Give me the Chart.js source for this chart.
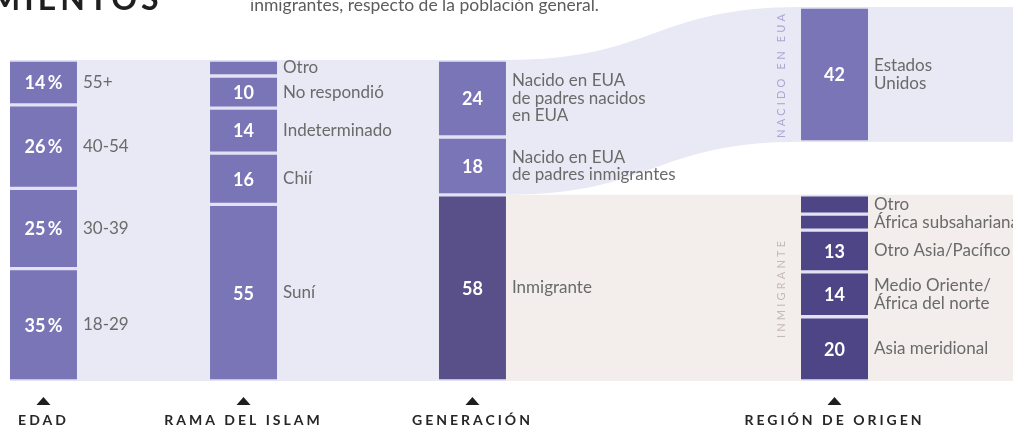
<!DOCTYPE html>
<html lang="es">
<head>
<meta charset="utf-8">
<title>Musulmanes en EUA</title>
<script src="https://cdn.jsdelivr.net/npm/chart.js@4.4.1/dist/chart.umd.min.js"></script>
<style>
  html, body { margin: 0; padding: 0; background: #fff; }
  .wrap { position: relative; width: 1013px; height: 427px; }
</style>
</head>
<body>
<div class="wrap"><canvas id="chart"></canvas></div>
<script>
// data, bottom segment first in every column
const COLUMN_TITLES = ['EDAD', 'RAMA DEL ISLAM', 'GENERACIÓN', 'REGIÓN DE ORIGEN'];

const AGE_LABELS = ['18-29', '30-39', '40-54', '55+'];
const AGE_VALUES = [35, 25, 26, 14];

const BRANCH_LABELS = ['Suní', 'Chií', 'Indeterminado', 'No respondió', 'Otro'];
const BRANCH_VALUES = [55, 16, 14, 10, 5];

const GEN_LABELS = [['Inmigrante'], ['Nacido en EUA', 'de padres inmigrantes'], ['Nacido en EUA', 'de padres nacidos', 'en EUA']];
const GEN_VALUES = [58, 18, 24];

const ORIGIN_IMM_LABELS = [['Asia meridional'], ['Medio Oriente/', 'África del norte'], ['Otro Asia/Pacífico'], ['África subsahariana'], ['Otro']];
const ORIGIN_IMM_VALUES = [20, 14, 13, 5, 6];
const ORIGIN_US_LABELS = [['Estados', 'Unidos']];
const ORIGIN_US_VALUES = [42];

// layout
const COLUMN_POS = [4.29, 24.04, 46.64, 82.38]; // along a 0..100 x axis
const BAR_WIDTH = 67;
const REGION_GAP = 16.5; // empty space between immigrant and US-born parts of the last column
const AXIS_HEIGHT = 46;

const PURPLE = '#7a75b6';
const PURPLE_DARK = '#5a5089';
const PURPLE_DEEP = '#4e4586';
const LAVENDER = '#e9e9f5';
const BEIGE = '#f3eeec';
const SEPARATOR = '#e3e2f2';

const sum = arr => arr.reduce((a, b) => a + b, 0);
const Y_MAX = sum(ORIGIN_IMM_VALUES) + REGION_GAP + sum(ORIGIN_US_VALUES);

function segments(col, labels, values, color, fmt) {
    return values.map((v, i) => ({
        label: [].concat(labels[i]).join(' '),
        lines: [].concat(labels[i]),
        valueText: v >= 10 ? fmt(v) : null,
        data: [{ x: COLUMN_POS[col], y: v }],
        backgroundColor: color,
        borderColor: SEPARATOR,
        borderWidth: { top: 2, bottom: 2 },
        borderSkipped: false
    }));
}

const plain = v => String(v);
const percent = v => v + '\u2009%';

const datasets = [
    ...segments(0, AGE_LABELS, AGE_VALUES, PURPLE, percent),
    ...segments(1, BRANCH_LABELS, BRANCH_VALUES, PURPLE, plain),
    ...segments(2, GEN_LABELS.slice(0, 1), GEN_VALUES.slice(0, 1), PURPLE_DARK, plain),
    ...segments(2, GEN_LABELS.slice(1), GEN_VALUES.slice(1), PURPLE, plain),
    ...segments(3, ORIGIN_IMM_LABELS, ORIGIN_IMM_VALUES, PURPLE_DEEP, plain),
    {
        label: 'gap',
        spacer: true,
        data: [{ x: COLUMN_POS[3], y: REGION_GAP }],
        backgroundColor: 'rgba(0,0,0,0)',
        borderWidth: 0
    },
    ...segments(3, ORIGIN_US_LABELS, ORIGIN_US_VALUES, PURPLE, plain)
];

// backgrounds, flow band and all the text around the bars
const sankeyDecor = {
    id: 'sankeyDecor',
    beforeDraw(chart) {
        chart.ctx.letterSpacing = '3px'; // spaced column titles on the x axis
    },
    beforeDatasetsDraw(chart) {
        const { ctx, scales: { x, y }, width } = chart;
        ctx.letterSpacing = '0px';
        const half = BAR_WIDTH / 2;
        const left = i => x.getPixelForValue(COLUMN_POS[i]) - half;
        const right = i => x.getPixelForValue(COLUMN_POS[i]) + half;
        const immGen = GEN_VALUES[0];
        const immOrigin = sum(ORIGIN_IMM_VALUES);

        ctx.save();
        // lavender block behind first columns
        ctx.fillStyle = LAVENDER;
        ctx.fillRect(left(0), y.getPixelForValue(100), left(2) - left(0), y.getPixelForValue(0) - y.getPixelForValue(100));

        // beige immigrant band
        ctx.fillStyle = BEIGE;
        ctx.fillRect(right(2), y.getPixelForValue(immOrigin), width - right(2), y.getPixelForValue(0) - y.getPixelForValue(immOrigin));

        // lavender flow: US born generations -> Estados Unidos
        const x0 = right(2), x1 = left(3), xm = (x0 + x1) / 2;
        const t0 = y.getPixelForValue(sum(GEN_VALUES)), b0 = y.getPixelForValue(immGen);
        const t1 = y.getPixelForValue(Y_MAX), b1 = y.getPixelForValue(immOrigin + REGION_GAP);
        ctx.fillStyle = LAVENDER;
        ctx.beginPath();
        ctx.moveTo(x0, t0);
        ctx.bezierCurveTo(xm, t0, xm, t1, x1, t1);
        ctx.lineTo(x1, b1);
        ctx.bezierCurveTo(xm, b1, xm, b0, x0, b0);
        ctx.closePath();
        ctx.fill();
        ctx.fillRect(right(3), t1, width - right(3), b1 - t1);
        ctx.restore();
    },
    afterDatasetsDraw(chart) {
        const { ctx, scales: { x, y } } = chart;
        const half = BAR_WIDTH / 2;
        ctx.save();
        ctx.textBaseline = 'middle';
        chart.data.datasets.forEach((ds, i) => {
            if (ds.spacer) return;
            const el = chart.getDatasetMeta(i).data[0];
            const { x: cx, y: top, base } = el.getProps(['x', 'y', 'base'], true);
            const mid = (top + base) / 2;
            if (ds.valueText) {
                ctx.fillStyle = '#ffffff';
                ctx.font = 'bold 18px Lato';
                ctx.textAlign = 'center';
                ctx.fillText(ds.valueText, cx, mid + 1);
            }
            ctx.fillStyle = '#6a6a6a';
            ctx.font = '17px Lato';
            ctx.textAlign = 'left';
            const lh = 17.5;
            ds.lines.forEach((line, k) => {
                ctx.fillText(line, cx + half + 6, mid + (k - (ds.lines.length - 1) / 2) * lh);
            });
        });

        // vertical group names beside the last column
        const vx = x.getPixelForValue(COLUMN_POS[3]) - half - 20;
        const immOrigin = sum(ORIGIN_IMM_VALUES);
        const groups = [
            { text: 'NACIDO EN EUA', color: '#a9a6d5', y0: immOrigin + REGION_GAP, y1: Y_MAX },
            { text: 'INMIGRANTE', color: '#c4b9b7', y0: 0, y1: immOrigin }
        ];
        ctx.font = '11px Lato';
        ctx.letterSpacing = '3.2px';
        ctx.textAlign = 'center';
        groups.forEach(g => {
            ctx.save();
            ctx.translate(vx, (y.getPixelForValue(g.y0) + y.getPixelForValue(g.y1)) / 2);
            ctx.rotate(-Math.PI / 2);
            ctx.fillStyle = g.color;
            ctx.fillText(g.text, 0, 0);
            ctx.restore();
        });
        ctx.restore();
    },
    afterDraw(chart) {
        const { ctx, scales: { x } } = chart;
        ctx.save();
        // pointer triangles above the column titles
        ctx.fillStyle = '#1e1e1e';
        const ty = chart.chartArea.bottom;
        COLUMN_POS.forEach(p => {
            const cx = x.getPixelForValue(p);
            ctx.beginPath();
            ctx.moveTo(cx - 7, ty + 24);
            ctx.lineTo(cx + 7, ty + 24);
            ctx.lineTo(cx, ty + 16);
            ctx.closePath();
            ctx.fill();
        });
        // cut-off heading above the chart
        ctx.textBaseline = 'alphabetic';
        ctx.textAlign = 'left';
        ctx.fillStyle = '#1f1f1f';
        ctx.font = 'bold 32px Lato';
        ctx.letterSpacing = '4px';
        ctx.fillText('MIENTOS', -10, 10);
        ctx.fillStyle = '#5c5c5c';
        ctx.font = '17.5px Lato';
        ctx.letterSpacing = '0px';
        ctx.fillText('inmigrantes, respecto de la población general.', 250, 11);
        ctx.restore();
    }
};

new Chart(document.getElementById('chart'), {
    type: 'bar',
    data: { datasets },
    options: {
        responsive: true,
        maintainAspectRatio: false,
        animation: false,
        barThickness: BAR_WIDTH,
        layout: { padding: { top: 7, left: 0, right: 0, bottom: 0 } },
        plugins: {
            legend: { display: false },
            tooltip: { enabled: true }
        },
        scales: {
            x: {
                type: 'linear',
                min: 0,
                max: 100,
                stacked: true,
                offset: false,
                grid: { display: false, drawTicks: false, offset: false },
                border: { display: false },
                afterBuildTicks: scale => { scale.ticks = COLUMN_POS.map(v => ({ value: v })); },
                afterFit: scale => {
                    scale.height = AXIS_HEIGHT;
                    scale.paddingLeft = 0;
                    scale.paddingRight = 0;
                },
                ticks: {
                    autoSkip: false,
                    maxRotation: 0,
                    padding: 31,
                    color: '#262626',
                    font: { family: 'Lato', size: 14, weight: 'bold' },
                    callback: (v, i) => COLUMN_TITLES[i]
                }
            },
            y: {
                display: false,
                stacked: true,
                min: 0,
                max: Y_MAX
            }
        }
    },
    plugins: [sankeyDecor]
});
</script>
</body>
</html>
